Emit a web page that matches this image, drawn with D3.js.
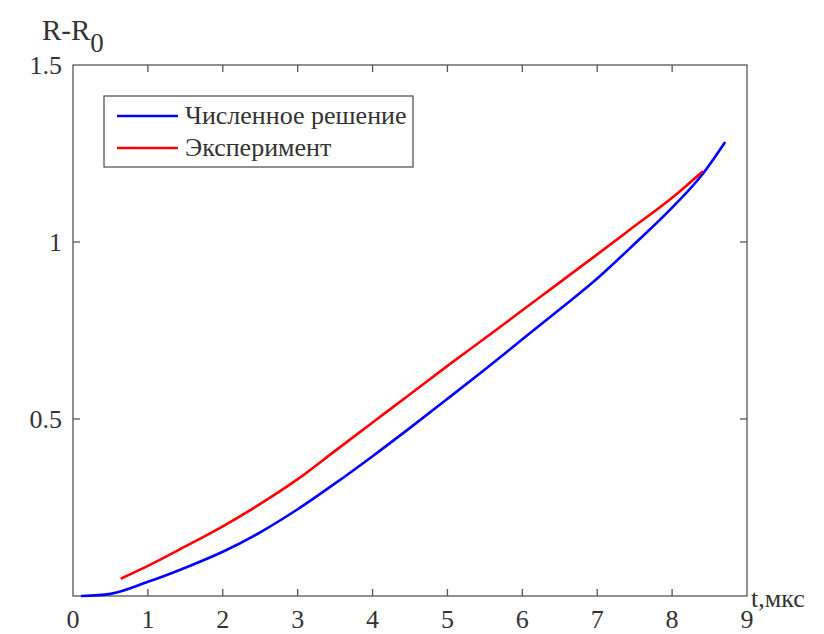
<!DOCTYPE html>
<html><head><meta charset="utf-8">
<script src="https://cdn.jsdelivr.net/npm/d3@7"></script>
<style>body{margin:0;background:#fff}svg{display:block}</style>
</head><body><svg id="c" width="824" height="634" font-family="'Liberation Serif','DejaVu Serif',serif"></svg>
<script>
const xTicks=[0,1,2,3,4,5,6,7,8,9];
const yTicks=[0.5,1,1.5];
const numT=[0.12,0.5,1.0,1.5,2.0,2.5,3.0,3.5,4.0,4.5,5.0,5.5,6.0,6.5,7.0,7.5,8.0,8.4,8.7];
const numV=[0.0,0.006,0.04,0.08,0.125,0.18,0.245,0.318,0.395,0.475,0.557,0.64,0.725,0.81,0.897,0.995,1.097,1.19,1.28];
const expT=[0.65,1.0,1.5,2.0,2.5,3.0,3.5,4.0,4.5,5.0,5.5,6.0,6.5,7.0,7.5,8.0,8.4];
const expV=[0.05,0.085,0.14,0.197,0.26,0.33,0.41,0.49,0.57,0.65,0.728,0.807,0.886,0.965,1.045,1.125,1.198];
const seriesNames=["Численное решение","Эксперимент"];
const colors=["#0000ff","#ff0000"];

const svg=d3.select("#c");
const L=73,R=747,T=65,B=596;
const x=d3.scaleLinear().domain([0,9]).range([L,R]);
const y=d3.scaleLinear().domain([0,1.5]).range([B,T]);
const axc="#555", txc="#333", fs=26;

svg.append("rect").attr("x",L).attr("y",T).attr("width",R-L).attr("height",B-T)
  .attr("fill","none").attr("stroke",axc).attr("stroke-width",1.3);

const tl=7;
const xt=xTicks.slice(1,-1), yt=yTicks.filter(d=>d<1.5);
svg.append("g").selectAll("line").data(xt).join("line")
  .attr("x1",d=>x(d)).attr("x2",d=>x(d)).attr("y1",B).attr("y2",B-tl).attr("stroke",axc).attr("stroke-width",1.3);
svg.append("g").selectAll("line").data(xt).join("line")
  .attr("x1",d=>x(d)).attr("x2",d=>x(d)).attr("y1",T).attr("y2",T+tl).attr("stroke",axc).attr("stroke-width",1.3);
svg.append("g").selectAll("line").data(yt).join("line")
  .attr("x1",L).attr("x2",L+tl).attr("y1",d=>y(d)).attr("y2",d=>y(d)).attr("stroke",axc).attr("stroke-width",1.3);
svg.append("g").selectAll("line").data(yt).join("line")
  .attr("x1",R).attr("x2",R-tl).attr("y1",d=>y(d)).attr("y2",d=>y(d)).attr("stroke",axc).attr("stroke-width",1.3);

svg.append("g").selectAll("text").data(xTicks).join("text")
  .attr("x",d=>x(d)).attr("y",628).attr("text-anchor","middle").attr("font-size",fs).attr("fill",txc).text(d=>d);
svg.append("g").selectAll("text").data(yTicks).join("text")
  .attr("x",62).attr("y",d=>y(d)+9).attr("text-anchor","end").attr("font-size",fs).attr("fill",txc).text(d=>d);

const yl=svg.append("text").attr("x",42).attr("y",40).attr("font-size",29).attr("fill",txc);
yl.append("tspan").text("R-R");
yl.append("tspan").attr("dy",12).attr("font-size",27).text("0");
svg.append("text").attr("x",751).attr("y",607).attr("font-size",fs).attr("fill",txc).text("t,мкс");

const line=d3.line().x(d=>x(d[0])).y(d=>y(d[1])).curve(d3.curveMonotoneX);
const data=[d3.zip(numT,numV),d3.zip(expT,expV)];
svg.append("g").selectAll("path").data(data).join("path")
  .attr("d",line).attr("fill","none").attr("stroke",(d,i)=>colors[i]).attr("stroke-width",2.6)
  .attr("stroke-linejoin","round").attr("stroke-linecap","round");

const lg=svg.append("g");
lg.append("rect").attr("x",104).attr("y",96).attr("width",309).attr("height",71)
  .attr("fill","#fff").attr("stroke",axc).attr("stroke-width",1.3);
seriesNames.forEach((n,i)=>{
  const yy=116+i*32;
  lg.append("line").attr("x1",117).attr("x2",178).attr("y1",yy).attr("y2",yy).attr("stroke",colors[i]).attr("stroke-width",2.6);
  lg.append("text").attr("x",185).attr("y",yy+8).attr("font-size",26).attr("fill",txc).text(n);
});
</script></body></html>
